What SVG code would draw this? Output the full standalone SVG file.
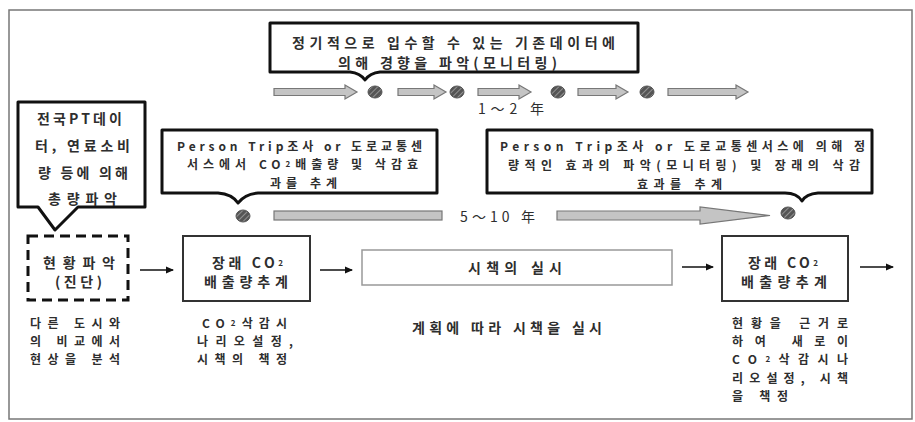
<svg xmlns="http://www.w3.org/2000/svg" width="915" height="422" viewBox="0 0 915 422">
<defs>
<style>
text{font-family:"Noto Sans CJK KR","Liberation Sans",sans-serif;font-weight:700;fill:#2e2e2e;dominant-baseline:central}
.t14{font-size:14px}
.t12{font-size:12px}
.sub{font-size:8px}
.callout{fill:#fff;stroke:#111;stroke-width:3;stroke-linejoin:round}
.box{fill:#fff;stroke:#333;stroke-width:2}
.thin{fill:#fff;stroke:#999;stroke-width:1.5}
.dash{fill:#fff;stroke:#111;stroke-width:3;stroke-dasharray:10 6}
.garrow{fill:#c4c4c4;stroke:#777;stroke-width:1.2}
.dot{fill:url(#hatch);stroke:#555;stroke-width:1}
.conn{stroke:#111;stroke-width:1.5;fill:none;marker-end:url(#ah)}
</style>
<pattern id="hatch" width="4" height="4" patternUnits="userSpaceOnUse" patternTransform="rotate(45)">
<rect width="4" height="4" fill="#555"/>
<line x1="0" y1="0" x2="0" y2="4" stroke="#bbb" stroke-width="1.2"/>
</pattern>
<marker id="ah" markerWidth="8" markerHeight="8" refX="7" refY="4" orient="auto" markerUnits="userSpaceOnUse">
<path d="M0,0.5 L8,4 L0,7.5 Z" fill="#111"/>
</marker>
</defs>
<rect x="9" y="10" width="903" height="409" fill="#fff" stroke="#777" stroke-width="1.5"/>

<g id="callout-top">
<path class="callout" d="M270,23 H638 V72 H380 Q370,73 365,80 Q360,73 350,72 H270 Z"/>
<text class="t14" x="292" y="42" textLength="323" lengthAdjust="spacing">정기적으로 입수할 수 있는 기존데이터에</text>
<text class="t14" x="338" y="62" textLength="219" lengthAdjust="spacing">의해 경향을 파악(모니터링)</text>
</g>

<g id="timeline-top">
<path class="garrow" d="M274,88.5 H345 V85 L357,92 L345,99 V95.5 H274 Z"/>
<ellipse class="dot" cx="375" cy="92" rx="7" ry="6"/>
<path class="garrow" d="M398,88.5 H434 V85 L446,92 L434,99 V95.5 H398 Z"/>
<ellipse class="dot" cx="457" cy="92" rx="7" ry="6"/>
<path class="garrow" d="M478,88.5 H519 V85 L531,92 L519,99 V95.5 H478 Z"/>
<ellipse class="dot" cx="558" cy="92" rx="7" ry="6"/>
<path class="garrow" d="M578,88.5 H616 V85 L628,92 L616,99 V95.5 H578 Z"/>
<ellipse class="dot" cx="647" cy="92" rx="7" ry="6"/>
<path class="garrow" d="M668,88.5 H736 V85 L748,92 L736,99 V95.5 H668 Z"/>
<text class="t14" x="478" y="108" textLength="66" lengthAdjust="spacing" style="font-weight:400">1～2 年</text>
</g>

<g id="callout-left">
<path class="callout" d="M18,102 H145 V207 H78 L55,230 L38,207 H18 Z"/>
<text class="t14" x="37" y="118" textLength="85" lengthAdjust="spacing">전국PT데이</text>
<text class="t14" x="35" y="145" textLength="95" lengthAdjust="spacing">터, 연료소비</text>
<text class="t14" x="38" y="172" textLength="90" lengthAdjust="spacing">량 등에 의해</text>
<text class="t14" x="48" y="198" textLength="69" lengthAdjust="spacing">총량파악</text>
</g>

<g id="callout-mid">
<path class="callout" d="M162,130 H437 V193 H258 Q245,194 238,203 Q232,194 218,193 H162 Z"/>
<text class="t12" x="177" y="145" textLength="245" lengthAdjust="spacing">Person Trip조사 or 도로교통센</text>
<text class="t12" x="187" y="163" textLength="231" lengthAdjust="spacing">서스에서 CO<tspan class="sub">2</tspan>배출량 및 삭감효</text>
<text class="t12" x="270" y="182" textLength="67" lengthAdjust="spacing">과를 추계</text>
</g>

<g id="callout-right">
<path class="callout" d="M487,130 H872 V193 H818 Q806,194 802,201 Q797,193 785,193 H487 Z"/>
<text class="t12" x="500" y="145" textLength="365" lengthAdjust="spacing">Person Trip조사 or 도로교통센서스에 의해 정</text>
<text class="t12" x="508" y="164" textLength="352" lengthAdjust="spacing">량적인 효과의 파악(모니터링) 및 장래의 삭감</text>
<text class="t12" x="637" y="183" textLength="85" lengthAdjust="spacing">효과를 추계</text>
</g>

<g id="timeline-bottom">
<ellipse class="dot" cx="243" cy="216" rx="7" ry="6"/>
<rect class="garrow" x="274" y="211" width="168" height="9"/>
<text class="t14" x="460" y="216" textLength="75" lengthAdjust="spacing" style="font-weight:400">5～10 年</text>
<path class="garrow" d="M557,211 H700 V207 L770,215.5 L700,224 V220 H557 Z"/>
<ellipse class="dot" cx="788" cy="213" rx="7" ry="6"/>
</g>

<g id="node-diagnosis">
<rect class="dash" x="28" y="236" width="100" height="64"/>
<text class="t14" x="43" y="262" textLength="72" lengthAdjust="spacing">현황파악</text>
<text class="t14" x="55" y="281" textLength="47" lengthAdjust="spacing">(진단)</text>
<text class="t12" x="30" y="322" textLength="90" lengthAdjust="spacing">다른 도시와</text>
<text class="t12" x="30" y="340" textLength="90" lengthAdjust="spacing">의 비교에서</text>
<text class="t12" x="30" y="358" textLength="90" lengthAdjust="spacing">현상을 분석</text>
</g>

<g id="node-estimate1">
<rect class="box" x="183" y="236" width="127" height="65"/>
<text class="t14" x="212" y="262" textLength="71" lengthAdjust="spacing">장래 CO<tspan class="sub">2</tspan></text>
<text class="t14" x="204" y="281" textLength="84" lengthAdjust="spacing">배출량추계</text>
<text class="t12" x="202" y="322" textLength="85" lengthAdjust="spacing">CO<tspan class="sub">2</tspan>삭감시</text>
<text class="t12" x="197" y="340" textLength="96" lengthAdjust="spacing">나리오설정,</text>
<text class="t12" x="197" y="358" textLength="90" lengthAdjust="spacing">시책의 책정</text>
</g>

<g id="node-implement">
<rect class="thin" x="362" y="250" width="310" height="35"/>
<text class="t14" x="468" y="267" textLength="94" lengthAdjust="spacing">시책의 실시</text>
<text class="t14" x="412" y="327" textLength="190" lengthAdjust="spacing">계획에 따라 시책을 실시</text>
</g>

<g id="node-estimate2">
<rect class="box" x="722" y="236" width="126" height="65"/>
<text class="t14" x="748" y="262" textLength="70" lengthAdjust="spacing">장래 CO<tspan class="sub">2</tspan></text>
<text class="t14" x="741" y="281" textLength="86" lengthAdjust="spacing">배출량추계</text>
<text class="t12" x="732" y="322" textLength="116" lengthAdjust="spacing">현황을 근거로</text>
<text class="t12" x="732" y="340" textLength="116" lengthAdjust="spacing">하여 새로이</text>
<text class="t12" x="732" y="358" textLength="116" lengthAdjust="spacing">CO<tspan class="sub">2</tspan>삭감시나</text>
<text class="t12" x="732" y="377" textLength="116" lengthAdjust="spacing">리오설정, 시책</text>
<text class="t12" x="732" y="395" textLength="56" lengthAdjust="spacing">을 책정</text>
</g>

<g id="connectors">
<line class="conn" x1="140" y1="270" x2="173" y2="270"/>
<line class="conn" x1="320" y1="270" x2="352" y2="270"/>
<line class="conn" x1="682" y1="267" x2="713" y2="267"/>
<line class="conn" x1="860" y1="267" x2="893" y2="267"/>
</g>
</svg>
